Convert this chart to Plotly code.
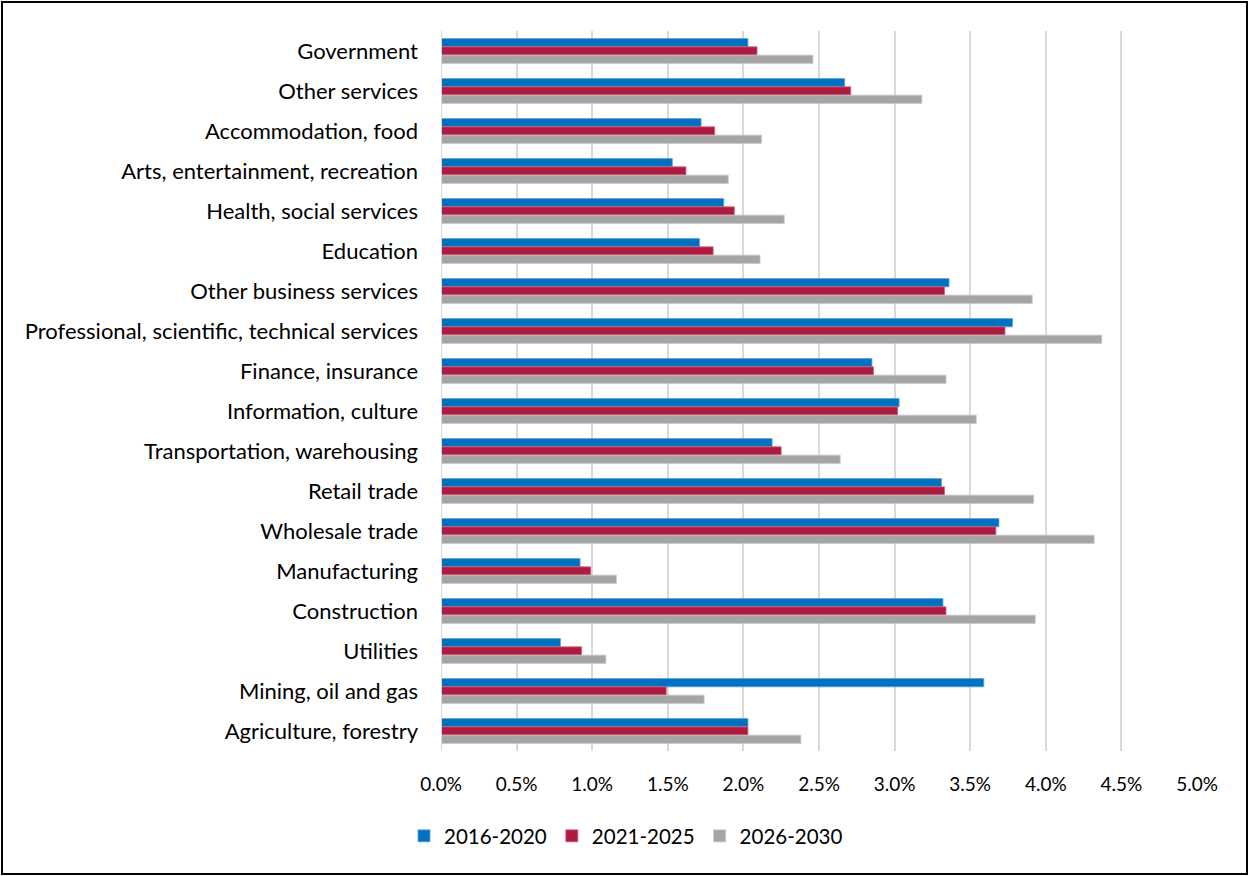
import plotly.graph_objects as go

# Industries, listed top to bottom as drawn
industries = [
    "Government",
    "Other services",
    "Accommodation, food",
    "Arts, entertainment, recreation",
    "Health, social services",
    "Education",
    "Other business services",
    "Professional, scientific, technical services",
    "Finance, insurance",
    "Information, culture",
    "Transportation, warehousing",
    "Retail trade",
    "Wholesale trade",
    "Manufacturing",
    "Construction",
    "Utilities",
    "Mining, oil and gas",
    "Agriculture, forestry",
]

# Average annual growth (%) by period
growth_2016_2020 = [2.03, 2.67, 1.72, 1.53, 1.87, 1.71, 3.36, 3.78, 2.85, 3.03,
                    2.19, 3.31, 3.69, 0.92, 3.32, 0.79, 3.59, 2.03]
growth_2021_2025 = [2.09, 2.71, 1.81, 1.62, 1.94, 1.80, 3.33, 3.73, 2.86, 3.02,
                    2.25, 3.33, 3.67, 0.99, 3.34, 0.93, 1.49, 2.03]
growth_2026_2030 = [2.46, 3.18, 2.12, 1.90, 2.27, 2.11, 3.91, 4.37, 3.34, 3.54,
                    2.64, 3.92, 4.32, 1.16, 3.93, 1.09, 1.74, 2.38]

periods = ["2016-2020", "2021-2025", "2026-2030"]
series = [growth_2016_2020, growth_2021_2025, growth_2026_2030]
colors = ["#0070C0", "#AE1A40", "#A5A5A5"]
edges = ["#5BA3DA", "#D0607C", "#C8C8C8"]

x_ticks = [i * 0.5 for i in range(11)]

W, H = 1250, 876
ML, MR, MT, MB = 441, 53, 31, 125
pw, ph = W - ML - MR, H - MT - MB

fig = go.Figure()
for name, vals, col, edge in zip(periods, series, colors, edges):
    fig.add_trace(go.Bar(
        y=industries, x=vals, name=name, orientation="h",
        marker=dict(color=col, line=dict(color=edge, width=0.8)),
    ))

font_family = "Lato, 'Open Sans', sans-serif"

fig.update_layout(
    width=W, height=H,
    margin=dict(l=ML, r=MR, t=MT, b=MB),
    paper_bgcolor="white", plot_bgcolor="white",
    barmode="group", bargap=0.38, bargroupgap=0,
    font=dict(family=font_family, size=19, color="#000000"),
    showlegend=True,
    legend=dict(
        orientation="h", x=(626 - ML) / pw, xanchor="center",
        y=-(836 - (H - MB)) / ph, yanchor="middle",
        font=dict(size=20.5), traceorder="normal", itemwidth=30,
    ),
    xaxis=dict(
        range=[0, 5], tickvals=x_ticks,
        ticktext=[f"{v:.1f}%" for v in x_ticks],
        showgrid=True, gridcolor="#D9D9D9", gridwidth=2,
        zeroline=False, showline=False,
        ticklabelstandoff=20,
        tickfont=dict(size=19),
    ),
    yaxis=dict(
        categoryorder="array", categoryarray=industries,
        autorange="reversed",
        showgrid=False, zeroline=False, showline=False,
        ticklabelstandoff=22,
        tickfont=dict(size=22),
    ),
)

# vertical axis line at zero
fig.add_shape(type="line", xref="x", yref="paper", x0=0, x1=0, y0=0, y1=1,
              line=dict(color="#D9D9D9", width=2))

# outer frame around the whole chart
fig.add_shape(type="rect", xref="paper", yref="paper",
              x0=(2 - ML) / pw, x1=(1247 - ML) / pw,
              y0=(H - MB - 874) / ph, y1=(H - MB - 2) / ph,
              line=dict(color="#000000", width=2), fillcolor="rgba(0,0,0,0)",
              layer="below")

fig.write_html("out.html")
